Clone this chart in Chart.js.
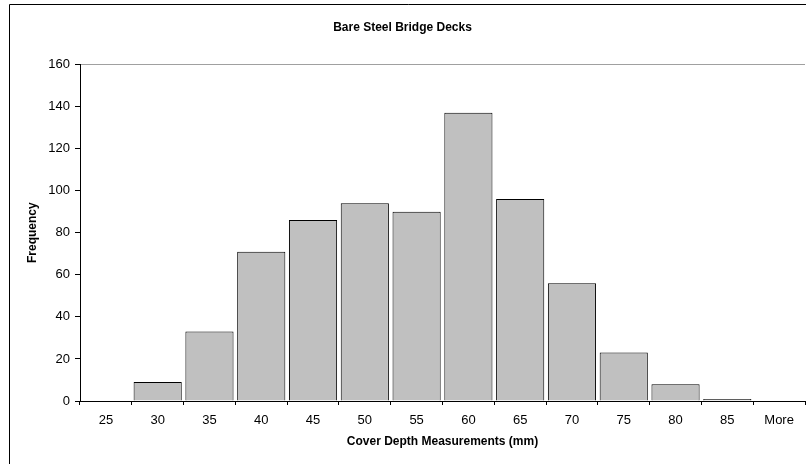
<!DOCTYPE html>
<html>
<head>
<meta charset="utf-8">
<script src="https://cdn.jsdelivr.net/npm/chart.js@4/dist/chart.umd.min.js"></script>
<style>
  html, body { margin: 0; padding: 0; background: #fff; overflow: hidden; }
  #wrap { position: relative; width: 806px; height: 464px; }
</style>
</head>
<body>
<div id="wrap"><canvas id="chart" width="806" height="464"></canvas></div>
<script>
// Histogram bins (upper edge of each cover-depth bin, mm)
const binLabels = ['25', '30', '35', '40', '45', '50', '55', '60', '65', '70', '75', '80', '85', 'More'];
// Number of measurements falling in each bin
const frequencies = [0, 9, 33, 71, 86, 94, 90, 137, 96, 56, 23, 8, 1, 0];
// Frequency axis ticks
const yTicks = [0, 20, 40, 60, 80, 100, 120, 140, 160];

const chartTitle = 'Bare Steel Bridge Decks';
const xTitle = 'Cover Depth Measurements (mm)';
const yTitle = 'Frequency';

const FONT = '"Liberation Sans", Arial, sans-serif';

// Outer chart frame
const framePlugin = {
  id: 'frame',
  afterDraw(chart) {
    const ctx = chart.ctx;
    ctx.save();
    ctx.strokeStyle = '#000';
    ctx.lineWidth = 1;
    ctx.beginPath();
    ctx.moveTo(9.5, 600);
    ctx.lineTo(9.5, 4.5);
    ctx.lineTo(900, 4.5);
    ctx.stroke();
    ctx.restore();
  }
};

new Chart(document.getElementById('chart'), {
  type: 'bar',
  data: {
    labels: binLabels,
    datasets: [{
      data: frequencies,
      backgroundColor: '#c0c0c0',
      borderColor: '#000',
      borderWidth: 1,
      borderSkipped: 'bottom',
      categoryPercentage: 1.0,
      barPercentage: 0.93
    }]
  },
  options: {
    responsive: false,
    animation: false,
    devicePixelRatio: 1,
    layout: { padding: { left: 0, right: 1, top: 0, bottom: 0 } },
    plugins: {
      legend: { display: false },
      tooltip: { enabled: false },
      title: {
        display: true,
        text: chartTitle,
        color: '#000',
        font: { family: FONT, size: 12, weight: 'bold' },
        padding: { top: 20, bottom: 30 }
      }
    },
    scales: {
      x: {
        offset: true,
        afterFit(scale) { scale.height = 63; },
        grid: {
          offset: true,
          drawOnChartArea: false,
          drawTicks: true,
          tickLength: 4,
          tickColor: '#000'
        },
        border: { display: true, color: '#000', width: 1 },
        ticks: {
          color: '#000',
          font: { family: FONT, size: 13 },
          padding: 8,
          maxRotation: 0,
          autoSkip: false
        },
        title: {
          display: true,
          text: xTitle,
          color: '#000',
          font: { family: FONT, size: 12, weight: 'bold' },
          padding: { top: 0, bottom: 15 }
        }
      },
      y: {
        min: 0,
        max: 160,
        afterFit(scale) { scale.width = 80; },
        afterBuildTicks(scale) { scale.ticks = yTicks.map(v => ({ value: v })); },
        grid: {
          drawOnChartArea: true,
          color: (c) => (c.tick && c.tick.value === 160 ? '#a0a0a0' : 'rgba(0,0,0,0)'),
          tickColor: '#000',
          tickLength: 5
        },
        border: { display: true, color: '#000', width: 1 },
        ticks: {
          color: '#000',
          font: { family: FONT, size: 13 },
          padding: 5
        },
        title: {
          display: true,
          text: yTitle,
          color: '#000',
          font: { family: FONT, size: 12, weight: 'bold' },
          padding: { top: 25, bottom: 0 }
        }
      }
    }
  },
  plugins: [framePlugin]
});
</script>
</body>
</html>
